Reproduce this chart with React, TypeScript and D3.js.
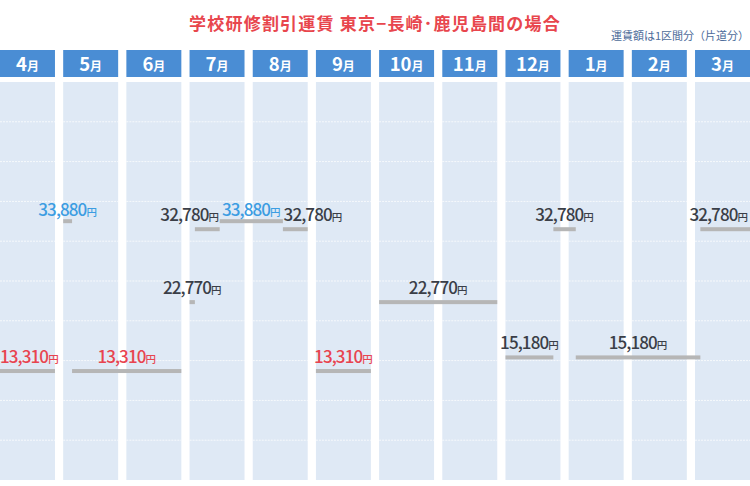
import React, { useRef, useEffect } from "react";
import { select, scaleBand, scaleLinear, format, range } from "d3";

// 年度（4月始まり）
const fiscalYear = 2024;
const months = ["4月", "5月", "6月", "7月", "8月", "9月", "10月", "11月", "12月", "1月", "2月", "3月"];

// 運賃区間（開始日・終了日・運賃）
const segStarts = ["04-01", "05-01", "05-06", "07-01", "07-04", "07-18", "08-18", "09-01", "10-01", "12-01", "12-28", "01-05", "03-04"];
const segEnds = ["04-30", "05-05", "06-30", "07-03", "07-17", "08-17", "08-31", "09-30", "11-30", "12-27", "01-04", "03-03", "03-31"];
const segFares = [13310, 33880, 13310, 22770, 32780, 33880, 32780, 13310, 22770, 15180, 32780, 15180, 32780];

const title = "学校研修割引運賃 東京−長崎･鹿児島間の場合";
const note = "運賃額は1区間分（片道分）";

const width = 750;
const height = 486;
const font = "'Noto Sans CJK JP', 'Noto Sans', sans-serif";

const App: React.FC = () => {
  const svgRef = useRef<SVGSVGElement>(null);

  useEffect(() => {
    const svg = select(svgRef.current);
    svg.selectAll("*").remove();

    const headerTop = 50;
    const headerH = 27;
    const bodyTop = 82;
    const bodyBottom = 480;

    const xScale = scaleBand<string>()
      .domain(months)
      .range([0, width])
      .paddingInner(0.13)
      .paddingOuter(0);
    const bw = xScale.bandwidth();

    const yScale = scaleLinear().domain([0, 50000]).range([468, 103.75]);

    const daysIn = (m: number) => new Date(m >= 4 ? fiscalYear : fiscalYear + 1, m, 0).getDate();
    const xAt = (s: string, isEnd: boolean) => {
      const [m, d] = s.split("-").map(Number);
      const x0 = xScale(`${m}月`)!;
      return x0 + ((isEnd ? d : d - 1) / daysIn(m)) * bw;
    };

    // タイトル
    svg
      .append("text")
      .attr("x", width / 2)
      .attr("y", 30)
      .attr("text-anchor", "middle")
      .attr("font-family", font)
      .attr("font-weight", 700)
      .attr("font-size", 17)
      .attr("letter-spacing", 1.2)
      .attr("fill", "#e8464d")
      .text(title);

    svg
      .append("text")
      .attr("x", 749)
      .attr("y", 40)
      .attr("text-anchor", "end")
      .attr("font-family", font)
      .attr("font-size", 11)
      .attr("fill", "#4d6c9a")
      .text(note);

    // 月の列
    const cols = svg
      .append("g")
      .selectAll("g")
      .data(months)
      .join("g")
      .attr("transform", (d) => `translate(${xScale(d)},0)`);

    cols
      .append("rect")
      .attr("y", headerTop)
      .attr("width", bw)
      .attr("height", headerH)
      .attr("fill", "#4a8dd4");

    const ht = cols
      .append("text")
      .attr("x", bw / 2)
      .attr("y", 71)
      .attr("text-anchor", "middle")
      .attr("font-family", font)
      .attr("font-weight", 700)
      .attr("fill", "#fff");
    ht.append("tspan").attr("font-size", 18.5).text((d) => d.replace("月", ""));
    ht.append("tspan").attr("font-size", 12).text("月");

    cols
      .append("rect")
      .attr("y", bodyTop)
      .attr("width", bw)
      .attr("height", bodyBottom - bodyTop)
      .attr("fill", "#dfe9f5");

    // 点線の罫線
    const rowH = (bodyBottom - bodyTop) / 10;
    cols
      .selectAll("line")
      .data(range(1, 10))
      .join("line")
      .attr("x1", 0)
      .attr("x2", bw)
      .attr("y1", (i) => bodyTop + i * rowH)
      .attr("y2", (i) => bodyTop + i * rowH)
      .attr("stroke", "#fff")
      .attr("stroke-width", 1)
      .attr("stroke-dasharray", "2 1")
      .attr("opacity", 0.75);

    // 運賃バー
    const segs = segFares.map((v, i) => ({
      v,
      x1: xAt(segStarts[i], false),
      x2: xAt(segEnds[i], true),
      y: yScale(v),
    }));

    svg
      .append("g")
      .selectAll("rect")
      .data(segs)
      .join("rect")
      .attr("x", (d) => d.x1)
      .attr("y", (d) => d.y - 2)
      .attr("width", (d) => d.x2 - d.x1)
      .attr("height", 4)
      .attr("fill", "#b6b6b6");

    // ラベル
    const lo = Math.min(...segFares);
    const hi = Math.max(...segFares);
    const colorOf = (v: number) => (v === lo ? "#e8444f" : v === hi ? "#3c9de2" : "#3a3e47");
    const fmt = format(",");

    const labelG = svg.append("g");
    const labels = segs.map((s) => {
      const base = s.y - (s.v === hi ? 5 : 8);
      const t = labelG
        .append("text")
        .attr("y", base)
        .attr("font-family", font)
        .attr("font-weight", 500)
        .attr("fill", colorOf(s.v))
        .attr("letter-spacing", -0.9);
      t.append("tspan").attr("font-size", 17).text(fmt(s.v));
      t.append("tspan").attr("font-size", 10.5).attr("letter-spacing", 0).text("円");
      const w = (t.node() as SVGTextElement).getComputedTextLength();
      return { s, t, w, left: 0, base };
    });

    // 重なりを避けて配置（長い区間から順に）
    const order = labels.slice().sort((a, b) => b.s.x2 - b.s.x1 - (a.s.x2 - a.s.x1));
    const placed: typeof labels = [];
    order.forEach((l) => {
      const cx = (l.s.x1 + l.s.x2) / 2;
      l.left = cx - l.w / 2;
      placed.forEach((p) => {
        if (Math.abs(p.base - l.base) > 12) return;
        if (l.left < p.left + p.w && l.left + l.w > p.left) {
          if (cx < p.left + p.w / 2) l.left = p.left - 3 - l.w;
          else l.left = p.left + p.w + 3;
        }
      });
      l.left = Math.max(0, Math.min(width - 2 - l.w, l.left));
      l.t.attr("x", l.left);
      placed.push(l);
    });
  }, []);

  return (
    <svg
      ref={svgRef}
      width={width}
      height={height}
      viewBox={`0 0 ${width} ${height}`}
      style={{ position: "absolute", left: 0, top: 0, display: "block", background: "#fff" }}
    />
  );
};

export default App;
